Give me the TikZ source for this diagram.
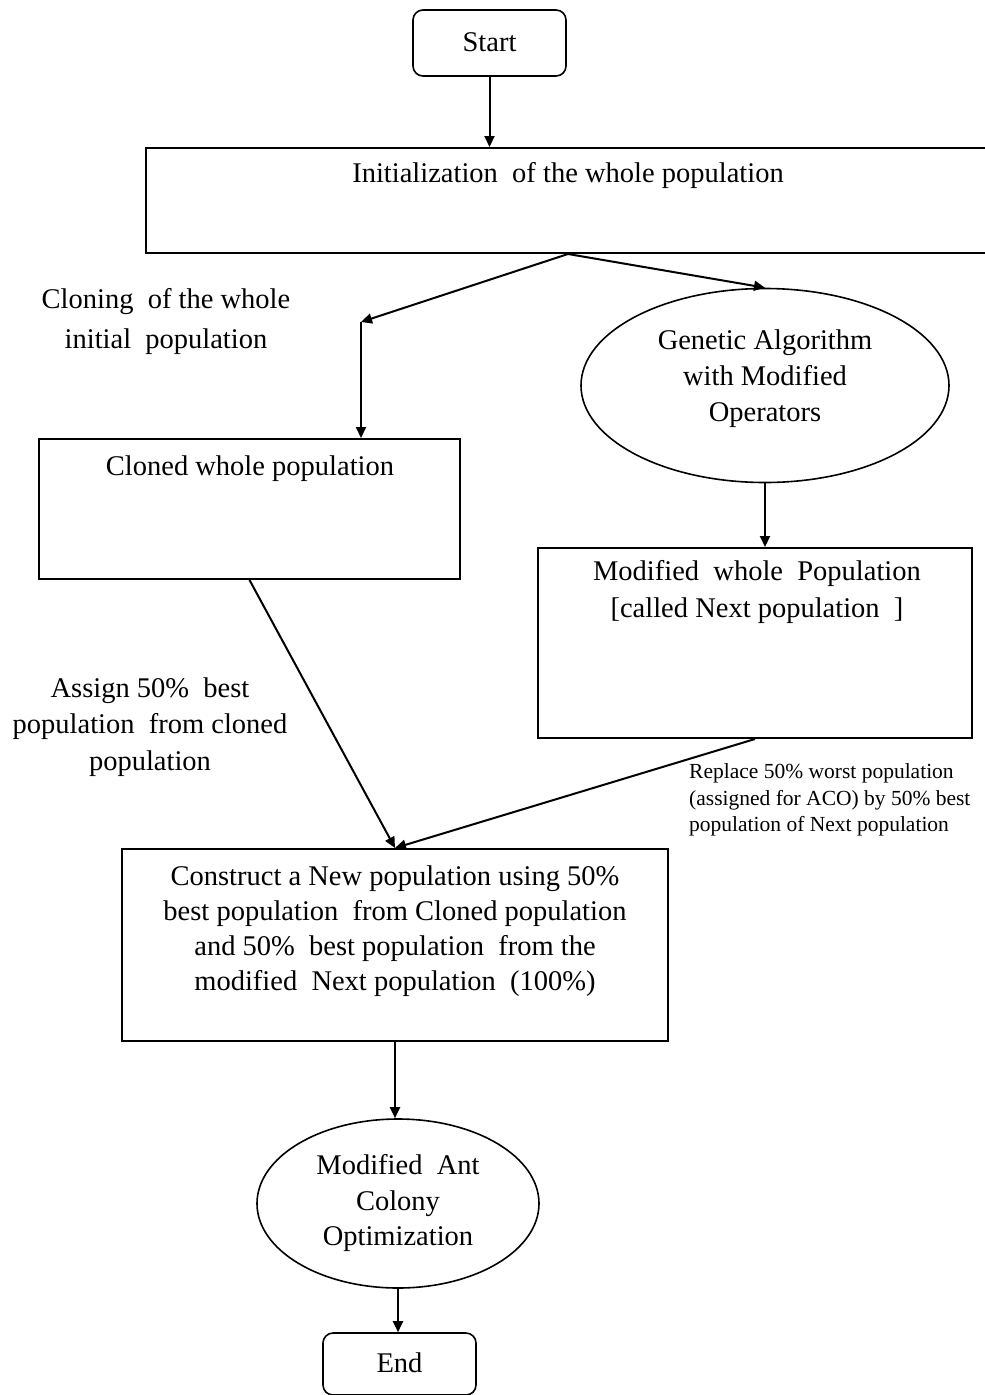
\documentclass[tikz,border=0pt]{standalone}
\usepackage{fontspec}
\setmainfont{Liberation Serif}
\usetikzlibrary{arrows.meta,shapes.geometric}
\tikzset{
  box/.style={draw, line width=2pt, inner sep=0pt},
  rbox/.style={draw, line width=1.6pt, rounded corners=10pt, inner sep=0pt},
  oval/.style={draw, ellipse, line width=1.6pt, inner sep=0pt},
  arr/.style={line width=2pt, -{Triangle[length=11pt,width=10pt]}},
  txt/.style={inner sep=0pt, align=center, font=\fontsize{28.5}{35}\selectfont},
  small/.style={inner sep=0pt, align=left, font=\fontsize{21.5}{26.5}\selectfont},
}
\begin{document}
\begin{tikzpicture}[x=1pt,y=-1pt]
\useasboundingbox (0,0) rectangle (985,1395);
% boxes
\node[rbox, minimum width=153pt, minimum height=66pt] (start) at (489.5,43) {};
\node[txt] (startt) at (489.5,42) {Start};
\node[box, minimum width=844pt, minimum height=105pt] (init) at (568,200.5) {};
\node[txt] (initt) at (568,175) {Initialization\ \ of the whole population};
\node[box, minimum width=421pt, minimum height=140pt] (cloned) at (249.5,509) {};
\node[txt] (clonedt) at (250,469) {Cloned whole population};
\node[oval, minimum width=368pt, minimum height=194pt] (ga) at (765,385.5) {};
\node[txt, font=\fontsize{28.5}{36}\selectfont] (gat) at (765,379) {Genetic Algorithm\\with Modified\\Operators};
\node[box, minimum width=434pt, minimum height=190pt] (mod) at (755,643) {};
\node[txt, font=\fontsize{28.5}{37}\selectfont] (modt) at (757,592) {Modified\ \ whole\ \ Population\\{}[called Next population\ \ ]};
\node[box, minimum width=546pt, minimum height=192pt] (cons) at (395,945) {};
\node[txt] (const) at (395,931) {Construct a New population using 50\%\\best population\ \ from Cloned population\\and 50\%\ \ best population\ \ from the\\modified\ \ Next population\ \ (100\%)};
\node[oval, minimum width=282pt, minimum height=169pt] (aco) at (398,1203.5) {};
\node[txt, font=\fontsize{28.5}{35.5}\selectfont] (acot) at (398,1203) {Modified\ \ Ant\\Colony\\Optimization};
\node[rbox, minimum width=153pt, minimum height=62pt] (endn) at (399.5,1364) {};
\node[txt] (endt) at (399.5,1363) {End};
% labels
\node[txt, font=\fontsize{28.5}{40}\selectfont] (lab1) at (166,321) {Cloning\ \ of the whole\\initial\ \ population};
\node[txt, font=\fontsize{28.5}{36.5}\selectfont] (lab2) at (150,727) {Assign 50\%\ \ best\\population\ \ from cloned\\population};
\node[small, anchor=west] (lab3) at (689,800) {Replace 50\% worst population\\(assigned for ACO) by 50\% best\\population of Next population};
% connectors
\coordinate (c1) at (361,322);
\draw[arr] (start.south) -- (start.south |- init.north);
\draw[arr] (init.south) -- (c1);
\draw[arr] (c1) -- (c1 |- cloned.north);
\draw[arr] (init.south) -- (ga.north);
\draw[arr] (ga.south) -- (ga.south |- mod.north);
\draw[arr] (cloned.south) -- (cons.north);
\draw[arr] (mod.south) -- (cons.north);
\draw[arr] (cons.south) -- (cons.south |- aco.north);
\draw[arr] (aco.south) -- (aco.south |- endn.north);
\end{tikzpicture}
\end{document}
